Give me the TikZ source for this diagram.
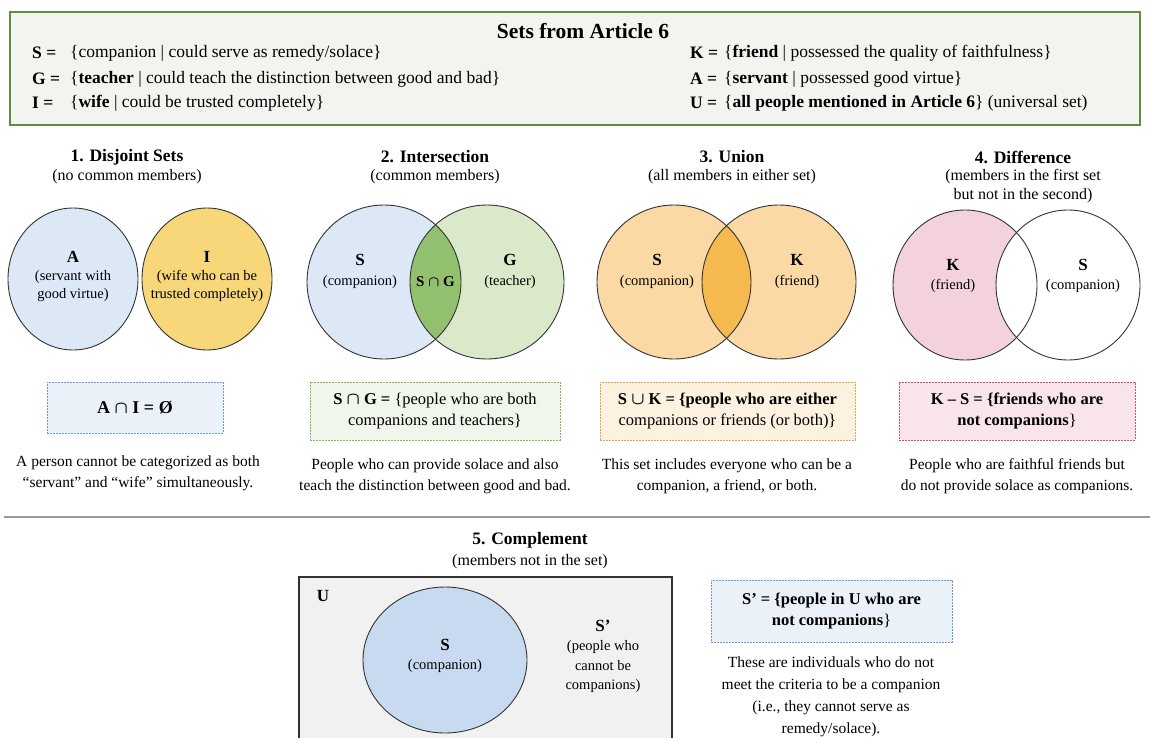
\documentclass[tikz,border=0pt]{standalone}
\usepackage{fontspec}
\setmainfont{Liberation Serif}
\usepackage{amsmath}

\definecolor{hdrgreen}{HTML}{5E8F40}
\definecolor{hdrfill}{HTML}{F2F5EF}
\definecolor{vennline}{HTML}{333333}
\definecolor{bluefill}{HTML}{DCE8F5}
\definecolor{bluedark}{HTML}{C7DAEF}
\definecolor{blueedge}{HTML}{7199CB}
\definecolor{blueboxfill}{HTML}{EAF1F9}
\definecolor{goldfill}{HTML}{F8D77A}
\definecolor{greenfill}{HTML}{D9E9C9}
\definecolor{greendark}{HTML}{93C06E}
\definecolor{greenedge}{HTML}{86B55F}
\definecolor{greenboxfill}{HTML}{F1F6EC}
\definecolor{orangefill}{HTML}{FBD9A5}
\definecolor{orangedark}{HTML}{F5B94F}
\definecolor{orangeedge}{HTML}{EFA24C}
\definecolor{orangeboxfill}{HTML}{FDF1DF}
\definecolor{pinkfill}{HTML}{F4D1DE}
\definecolor{pinkedge}{HTML}{CF4B7D}
\definecolor{pinkboxfill}{HTML}{FAE4EC}
\definecolor{ufill}{HTML}{F1F1F1}
\definecolor{sepgray}{HTML}{9A9A9A}

\newcommand{\bcap}{\ensuremath{\boldsymbol{\cap}}}
\newcommand{\bcup}{\ensuremath{\boldsymbol{\cup}}}

\begin{document}
\begin{tikzpicture}[x=1pt, y=-1pt,
        hdr/.style={anchor=west, inner sep=0pt, font=\fontsize{17.5}{20}\selectfont},
        sectitle/.style={inner sep=0pt, font=\fontsize{17.5}{20}\selectfont\bfseries},
        secsub/.style={inner sep=0pt, align=center, font=\fontsize{16}{19}\selectfont},
        setname/.style={inner sep=0pt, font=\fontsize{17}{20}\selectfont\bfseries},
        setnote/.style={inner sep=0pt, align=center, font=\fontsize{14.5}{18}\selectfont},
        formbox/.style={draw, dash pattern=on 2pt off 1pt, line width=0.8pt, align=center, inner sep=0pt, font=\fontsize{16.5}{21}\selectfont},
        desc/.style={inner sep=0pt, align=center, font=\fontsize{15.5}{21}\selectfont},
        venn/.style={draw=vennline, line width=0.9pt}]
    \def\cy{282}
    \def\r{77}

    \fill[white] (0,0) rectangle (1150,738);
    \useasboundingbox (0,0) rectangle (1150,738);

    \draw[hdrgreen, line width=1.6pt, fill=hdrfill] (10,12) rectangle (1140,125);
    \node[inner sep=0pt, font=\fontsize{21.5}{24}\selectfont\bfseries] (hdrtitle) at (583,31) {Sets from Article 6};
    \foreach \y/\lhs/\rhs [count=\k] in {53/S/{\{companion | could serve as remedy/solace\}},
            79/G/{\{\textbf{teacher} | could teach the distinction between good and bad\}},
            103/I/{\{\textbf{wife} | could be trusted completely\}}}{
        \node[hdr] (lset\k) at (32,\y) {\textbf{\lhs\ =}};
        \node[hdr] (ldef\k) at (70,\y) {\rhs};
    }
    \foreach \y/\lhs/\rhs [count=\k] in {53/K/{\{\textbf{friend} | possessed the quality of faithfulness\}},
            79/A/{\{\textbf{servant} | possessed good virtue\}},
            103/U/{\{\textbf{all people mentioned in Article 6}\} (universal set)}}{
        \node[hdr] (rset\k) at (690,\y) {\textbf{\lhs\ =}};
        \node[hdr] (rdef\k) at (724,\y) {\rhs};
    }

    \foreach \x/\ttl/\sub [count=\k] in {127/{1. Disjoint Sets}/{(no common members)},
            435/{2. Intersection}/{(common members)},
            732/{3. Union}/{(all members in either set)},
            1023/{4. Difference}/{(members in the first set\\but not in the second)}}{
        \node[sectitle] (sectitle\k) at (\x,157) {\ttl};
        \node[secsub, anchor=north] (secsub\k) at (\x,169) {\sub};
    }

    \fill[bluefill] (73,279) ellipse [x radius=65, y radius=71];
    \fill[goldfill] (207,279) ellipse [x radius=65, y radius=71];
    \draw[venn] (73,279) ellipse [x radius=65, y radius=71];
    \draw[venn] (207,279) ellipse [x radius=65, y radius=71];
    \node[setname] (setA) at (73,257) {A};
    \node[setnote] (noteA) at (73,286) {(servant with\\good virtue)};
    \node[setname] (setI) at (207,257) {I};
    \node[setnote] (noteI) at (207,286) {(wife who can be\\trusted completely)};

    \fill[bluefill] (384,\cy) circle (\r);
    \fill[greenfill] (487,\cy) circle (\r);
    \begin{scope}
        \clip (384,\cy) circle (\r);
        \fill[greendark] (487,\cy) circle (\r);
    \end{scope}
    \draw[venn] (384,\cy) circle (\r);
    \draw[venn] (487,\cy) circle (\r);
    \node[setname] (setS2) at (360,260) {S};
    \node[setnote] (noteS2) at (360,282) {(companion)};
    \node[setname] (setG) at (510,260) {G};
    \node[setnote] (noteG) at (510,282) {(teacher)};
    \node[setname, font=\fontsize{15}{18}\selectfont\bfseries] (capSG) at (435.5,282) {S \bcap{} G};

    \fill[orangefill] (674,\cy) circle (\r);
    \fill[orangefill] (779,\cy) circle (\r);
    \begin{scope}
        \clip (674,\cy) circle (\r);
        \fill[orangedark] (779,\cy) circle (\r);
    \end{scope}
    \draw[venn] (674,\cy) circle (\r);
    \draw[venn] (779,\cy) circle (\r);
    \node[setname] (setS3) at (657,260) {S};
    \node[setnote] (noteS3) at (657,282) {(companion)};
    \node[setname] (setK3) at (797,260) {K};
    \node[setnote] (noteK3) at (797,282) {(friend)};

    \fill[pinkfill] (965,285) ellipse [x radius=72, y radius=75];
    \fill[white] (1068,285) ellipse [x radius=72, y radius=75];
    \draw[venn] (965,285) ellipse [x radius=72, y radius=75];
    \draw[venn] (1068,285) ellipse [x radius=72, y radius=75];
    \node[setname] (setK4) at (953,265) {K};
    \node[setnote] (noteK4) at (953,286) {(friend)};
    \node[setname] (setS4) at (1083,265) {S};
    \node[setnote] (noteS4) at (1083,286) {(companion)};

    \node[formbox, draw=blueedge, fill=blueboxfill, minimum width=176pt, minimum height=51pt,
        font=\fontsize{18}{21}\selectfont\bfseries] (boxAI) at (135,407.5) {A \bcap{} I = \O};
    \node[formbox, draw=greenedge, fill=greenboxfill, minimum width=250pt, minimum height=58pt] (boxSG) at (435,411)
        {\textbf{S \bcap{} G =} \{people who are both\\companions and teachers\}};
    \node[formbox, draw=orangeedge, fill=orangeboxfill, minimum width=255pt, minimum height=58pt] (boxSK) at (727.5,411)
        {\textbf{S \bcup{} K = \{people who are either}\\companions or friends (or both)\}};
    \node[formbox, draw=pinkedge, fill=pinkboxfill, minimum width=236pt, minimum height=58pt] (boxKS) at (1017,411)
        {\textbf{K -- S = \{friends who are}\\\textbf{not companions}\}};

    \node[desc] (descAI) at (138,473) {A person cannot be categorized as both\\``servant'' and ``wife'' simultaneously.};
    \node[desc] (descSG) at (435,476) {People who can provide solace and also\\teach the distinction between good and bad.};
    \node[desc] (descSK) at (727,476) {This set includes everyone who can be a\\companion, a friend, or both.};
    \node[desc] (descKS) at (1017,476) {People who are faithful friends but\\do not provide solace as companions.};

    \draw[sepgray, line width=1.3pt] (4,517) -- (1150,517);

    \node[sectitle] (sectitle5) at (530,540) {5. Complement};
    \node[secsub] (secsub5) at (530,562) {(members not in the set)};

    \draw[vennline, line width=1.1pt, fill=ufill] (299,577) rectangle (672,760);
    \node[setname] (setU) at (323,596) {U};
    \fill[bluedark] (445,660) ellipse [x radius=82, y radius=73];
    \draw[venn] (445,660) ellipse [x radius=82, y radius=73];
    \node[setname] (setS5) at (445,645) {S};
    \node[setnote] (noteS5) at (445,666) {(companion)};
    \node[setname] (setSc) at (603,626) {S’};
    \node[setnote, font=\fontsize{14.5}{19.5}\selectfont] (noteSc) at (603,667) {(people who\\cannot be\\companions)};

    \node[formbox, draw=blueedge, fill=blueboxfill, minimum width=241pt, minimum height=62pt] (boxSc) at (831.5,611)
        {\textbf{S’ = \{people in U who are}\\\textbf{not companions}\}};
    \node[desc, font=\fontsize{15.5}{22}\selectfont] (descSc) at (831,697) {These are individuals who do not\\meet the criteria to be a companion\\(i.e., they cannot serve as\\remedy/solace).};
\end{tikzpicture}
\end{document}
